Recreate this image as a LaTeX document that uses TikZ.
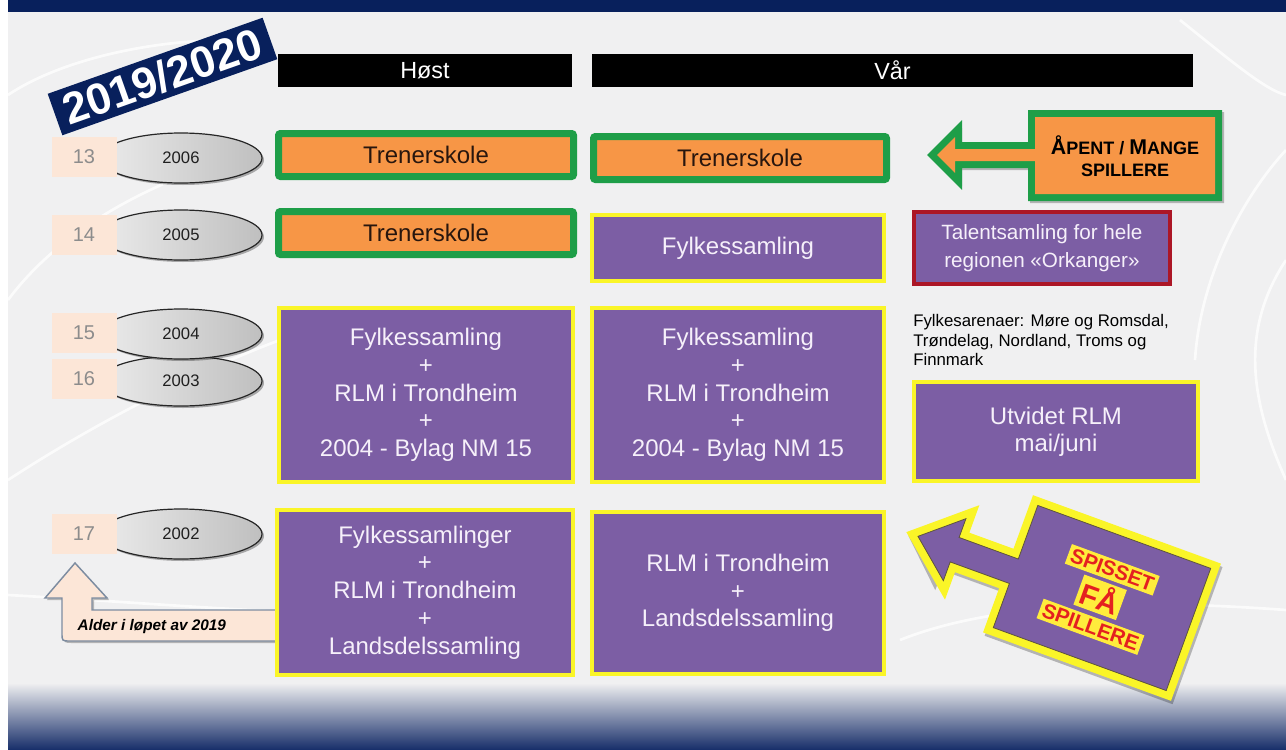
\documentclass[tikz,border=0pt]{standalone}
\usepackage{fontspec}
\setmainfont{Liberation Sans}
\usetikzlibrary{shapes.geometric,shadows}

\definecolor{navy}{RGB}{8,32,92}
\definecolor{bggray}{RGB}{240,240,241}
\definecolor{grn}{RGB}{30,158,72}
\definecolor{org}{RGB}{247,150,70}
\definecolor{purp}{RGB}{124,94,164}
\definecolor{ylw}{RGB}{250,245,40}
\definecolor{dred}{RGB}{172,22,38}
\definecolor{peach}{RGB}{252,230,215}
\definecolor{agegray}{RGB}{140,140,140}
\definecolor{boxtxt}{RGB}{246,240,250}
\definecolor{orgtxt}{RGB}{40,22,14}
\definecolor{bluemid}{RGB}{150,163,199}
\definecolor{bluebot}{RGB}{22,45,105}
\definecolor{alderline}{RGB}{125,140,160}
\definecolor{spred}{RGB}{228,32,32}
\definecolor{spylw}{RGB}{255,236,60}
\definecolor{edgedark}{RGB}{95,85,60}

\begin{document}
\begin{tikzpicture}[x=0.75pt,y=-0.75pt,
  sz/.style 2 args={minimum width=#1*0.75pt, minimum height=#2*0.75pt},
  shad/.style={drop shadow={shadow xshift=1.5pt,shadow yshift=-1.5pt,opacity=0.3,fill=black}},
  hdr/.style={fill=black, text=white, inner sep=0pt, font=\fontsize{17.5pt}{18pt}\selectfont},
  obox/.style={draw=grn, line width=5.25pt, fill=org, rounded corners=1.5pt, inner sep=0pt,
     text=orgtxt, font=\fontsize{18pt}{20.8pt}\selectfont, shad},
  pbox/.style={draw=ylw, line width=3pt, fill=purp, inner sep=0pt, align=center,
     text=boxtxt, font=\fontsize{18pt}{20.8pt}\selectfont, shad},
  ell/.style={ellipse, draw=black!85, line width=0.9pt, left color=white!92!black, right color=black!25,
     inner sep=0pt, sz={162}{50}, text=black!88, font=\fontsize{12.5pt}{14pt}\selectfont, shad},
  agebox/.style={fill=peach, inner sep=0pt, sz={65}{40}, text=agegray, font=\fontsize{15pt}{16pt}\selectfont},
  sptxt/.style={fill=spylw, text=spred, inner sep=2.3pt, rotate=-20}
]
\useasboundingbox (0,0) rectangle (1286,750);
\fill[white] (0,0) rectangle (1286,750);
\fill[bggray] (8,0) rectangle (1286,750);

% faint background lines
\begin{scope}[white, line width=2pt, opacity=0.75]
\draw (8,95) .. controls (60,60) and (150,40) .. (230,40);
\draw (8,300) .. controls (60,230) and (150,180) .. (260,150);
\draw (8,480) .. controls (100,420) and (200,370) .. (280,340);
\draw (8,595) .. controls (100,600) and (200,608) .. (290,612);
\draw (1286,150) .. controls (1240,200) and (1200,280) .. (1195,360);
\draw (1286,480) .. controls (1250,400) and (1240,330) .. (1286,260);
\draw (900,640) .. controls (1000,600) and (1150,600) .. (1286,610);
\draw (1180,20) .. controls (1230,60) and (1265,90) .. (1286,95);
\end{scope}

% bottom gradient and top band
\shade[top color=bggray, middle color=bluemid, bottom color=bluebot] (8,683) rectangle (1286,750);
\fill[navy] (8,0) rectangle (1286,12);

% year banner
\node[fill=navy, text=white, rotate=19.5, sz={228}{44}, inner sep=0pt,
      font=\bfseries\fontsize{33pt}{33pt}\selectfont] (yr) at (162.5,76.5) {2019/2020};

% headers
\node[hdr, sz={294}{33}] (hhost) at (425,70.5) {Høst};
\node[hdr, sz={601}{33}] (hvar) at (892.5,70.5) {Vår};

% ellipses
\node[ell] (e2006) at (181,158) {2006};
\node[ell] (e2005) at (181,235) {2005};
\node[ell] (e2003) at (181,381) {2003};
\node[ell] (e2004) at (181,334) {2004};
\node[ell] (e2002) at (181,534) {2002};

% age boxes
\node[agebox] (a13) at (84,157) {13};
\node[agebox] (a14) at (84,235) {14};
\node[agebox] (a15) at (84,333) {15};
\node[agebox] (a16) at (84,379) {16};
\node[agebox] (a17) at (84,534) {17};

% alder arrow
\fill[black, opacity=0.25] (77,565) -- (109,600) -- (94,600) -- (94,612) -- (280,612) -- (280,643) -- (72,643) .. controls (64,643) .. (64,635) -- (64,600) -- (47,600) -- cycle;
\filldraw[fill=peach, draw=alderline, line width=1.1pt, line join=miter]
  (75,563) -- (107,598) -- (92,598) -- (92,610) -- (278,610) -- (278,641) -- (70,641)
  .. controls (62,641) .. (62,633) -- (62,598) -- (45,598) -- cycle;
\node[anchor=west, font=\bfseries\itshape\fontsize{11.5pt}{12pt}\selectfont] (alder) at (73,627) {Alder i løpet av 2019};

% Høst / Vår boxes
\node[obox, sz={295}{43}] (h1) at (426,155) {Trenerskole};
\node[obox, sz={295}{43}] (h2) at (426,233) {Trenerskole};
\node[obox, sz={293}{43}] (v1) at (740,158) {Trenerskole};

\node[pbox, sz={292}{66}] (v2) at (738,248) {Fylkessamling};
\node[pbox, sz={294}{174}] (h3) at (426,395) {Fylkessamling\\+\\RLM i Trondheim\\+\\2004 - Bylag NM 15};
\node[pbox, sz={292}{174}] (v3) at (738,395) {Fylkessamling\\+\\RLM i Trondheim\\+\\2004 - Bylag NM 15};
\node[pbox, sz={296}{165}] (h4) at (425,592.5) {Fylkessamlinger\\+\\RLM i Trondheim\\+\\Landsdelssamling};
\node[pbox, sz={292}{162}] (v4) at (738,593) {RLM i Trondheim\\+\\Landsdelssamling};

% right column
\node[pbox, draw=dred, sz={256}{72}, font=\fontsize{15.5pt}{21pt}\selectfont] (tal) at (1042,248)
  {Talentsamling for hele\\regionen «Orkanger»};
\node[anchor=west, align=left, inner sep=0pt, font=\fontsize{12.6pt}{14.6pt}\selectfont] (arena) at (913,340)
  {Fylkesarenaer: Møre og Romsdal,\\Trøndelag, Nordland, Troms og\\Finnmark};
\node[pbox, sz={284}{99}, font=\fontsize{18pt}{20pt}\selectfont] (utv) at (1056,431.5) {Utvidet RLM\\mai/juni};

% open arrow (green / orange)
\fill[black, opacity=0.25, xshift=1.5pt, yshift=-1.5pt]
  (1028,110) -- (1222,110) -- (1222,201) -- (1028,201) -- (1028,168) -- (960,168) -- (960,184) -- (928,155) -- (960,126) -- (960,142) -- (1028,142) -- cycle;
\draw[grn, line width=10.5pt, line join=miter]
  (1035,117) -- (1215,117) -- (1215,194) -- (1035,194) -- (1035,161) -- (955,161) -- (955,173) -- (937,155) -- (955,137) -- (955,149) -- (1035,149) -- cycle;
\fill[org]
  (1035,117) -- (1215,117) -- (1215,194) -- (1035,194) -- (1035,161) -- (955,161) -- (955,173) -- (937,155) -- (955,137) -- (955,149) -- (1035,149) -- cycle;
\node[align=center, text=black, font=\bfseries\fontsize{13.5pt}{16.5pt}\selectfont] (open) at (1125,156)
  {{\fontsize{16pt}{16.5pt}\selectfont Å}PENT / {\fontsize{16pt}{16.5pt}\selectfont M}ANGE\\SPILLERE};

% spisset arrow (purple / yellow)
\begin{scope}[shift={(1102,598)}, rotate=-20]
\fill[black, opacity=0.25, xshift=2pt, yshift=-2pt]
  (-100,-16) -- (-162,-16) -- (-162,-37) -- (-206,5) -- (-162,47) -- (-162,26) -- (-100,26) -- (-100,73) -- (100,73) -- (100,-73) -- (-100,-73) -- cycle;
\draw[ylw, line width=12pt, line join=miter]
  (-92,-8) -- (-155,-8) -- (-155,-28) -- (-194,5) -- (-155,38) -- (-155,18) -- (-92,18) -- (-92,65) -- (92,65) -- (92,-65) -- (-92,-65) -- cycle;
\filldraw[fill=purp, draw=edgedark, line width=0.6pt, line join=miter]
  (-92,-8) -- (-155,-8) -- (-155,-28) -- (-194,5) -- (-155,38) -- (-155,18) -- (-92,18) -- (-92,65) -- (92,65) -- (92,-65) -- (-92,-65) -- cycle;
\node[sptxt, font=\bfseries\fontsize{15.5pt}{15.5pt}\selectfont] (sp1) at (0,-30) {SPISSET};
\node[sptxt, font=\bfseries\fontsize{15.5pt}{15.5pt}\selectfont] (sp3) at (-1,31) {SPILLERE};
\node[sptxt, font=\bfseries\fontsize{22pt}{22pt}\selectfont] (sp2) at (-2,0) {FÅ};
\end{scope}
\end{tikzpicture}
\end{document}
